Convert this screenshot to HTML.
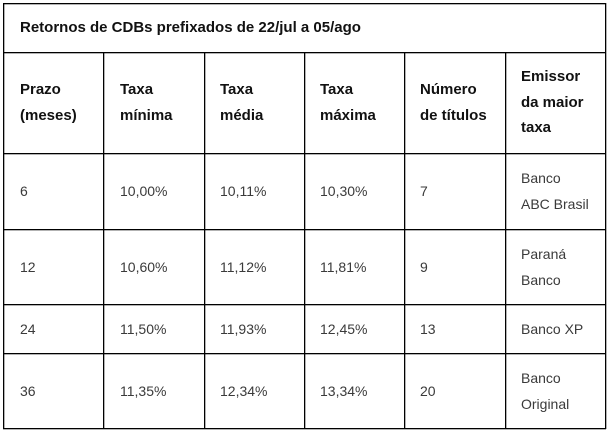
<!DOCTYPE html>
<html>
<head>
<meta charset="utf-8">
<style>
  html,body{margin:0;padding:0;background:#fff;}
  body{width:609px;height:432px;position:relative;overflow:hidden;font-family:"Liberation Sans",Arial,sans-serif;}
  .h{position:absolute;height:2px;background:linear-gradient(to bottom,#000 50%,rgba(0,0,0,.3) 50%);}
  .v{position:absolute;width:2px;background:linear-gradient(to right,#000 50%,rgba(0,0,0,.3) 50%);}
  .c{position:absolute;display:flex;align-items:center;line-height:25.5px;white-space:nowrap;}
  .hd{font-weight:bold;font-size:15px;color:#111;}
  .d{font-size:14px;color:#3a3a3a;line-height:26px;}
</style>
</head>
<body>
<!-- horizontal lines -->
<div class="h" style="left:3px;width:603px;top:3px;"></div>
<div class="h" style="left:3px;width:603px;top:52px;"></div>
<div class="h" style="left:3px;width:603px;top:153px;"></div>
<div class="h" style="left:3px;width:603px;top:229px;"></div>
<div class="h" style="left:3px;width:603px;top:304px;"></div>
<div class="h" style="left:3px;width:603px;top:353px;"></div>
<div class="h" style="left:3px;width:603px;top:428px;"></div>
<!-- vertical lines -->
<div class="v" style="left:3px;top:3px;height:426px;"></div>
<div class="v" style="left:605px;top:3px;height:426px;"></div>
<div class="v" style="left:103px;top:52px;height:377px;"></div>
<div class="v" style="left:204px;top:52px;height:377px;"></div>
<div class="v" style="left:304px;top:52px;height:377px;"></div>
<div class="v" style="left:404px;top:52px;height:377px;"></div>
<div class="v" style="left:505px;top:52px;height:377px;"></div>

<!-- title -->
<div class="c hd" style="left:20px;top:4px;height:47px;">Retornos de CDBs prefixados de 22/jul a 05/ago</div>

<!-- header row -->
<div class="c hd" style="left:20px;top:53px;height:99px;">Prazo<br>(meses)</div>
<div class="c hd" style="left:120px;top:53px;height:99px;">Taxa<br>mínima</div>
<div class="c hd" style="left:220px;top:53px;height:99px;">Taxa<br>média</div>
<div class="c hd" style="left:320px;top:53px;height:99px;">Taxa<br>máxima</div>
<div class="c hd" style="left:420px;top:53px;height:99px;">Número<br>de títulos</div>
<div class="c hd" style="left:521px;top:53px;height:99px;">Emissor<br>da maior<br>taxa</div>

<!-- row 1 -->
<div class="c d" style="left:20px;top:154px;height:74px;">6</div>
<div class="c d" style="left:120px;top:154px;height:74px;">10,00%</div>
<div class="c d" style="left:220px;top:154px;height:74px;">10,11%</div>
<div class="c d" style="left:320px;top:154px;height:74px;">10,30%</div>
<div class="c d" style="left:420px;top:154px;height:74px;">7</div>
<div class="c d" style="left:521px;top:154px;height:74px;">Banco<br>ABC Brasil</div>

<!-- row 2 -->
<div class="c d" style="left:20px;top:230px;height:73px;">12</div>
<div class="c d" style="left:120px;top:230px;height:73px;">10,60%</div>
<div class="c d" style="left:220px;top:230px;height:73px;">11,12%</div>
<div class="c d" style="left:320px;top:230px;height:73px;">11,81%</div>
<div class="c d" style="left:420px;top:230px;height:73px;">9</div>
<div class="c d" style="left:521px;top:230px;height:73px;">Paraná<br>Banco</div>

<!-- row 3 -->
<div class="c d" style="left:20px;top:305px;height:47px;">24</div>
<div class="c d" style="left:120px;top:305px;height:47px;">11,50%</div>
<div class="c d" style="left:220px;top:305px;height:47px;">11,93%</div>
<div class="c d" style="left:320px;top:305px;height:47px;">12,45%</div>
<div class="c d" style="left:420px;top:305px;height:47px;">13</div>
<div class="c d" style="left:521px;top:305px;height:47px;">Banco XP</div>

<!-- row 4 -->
<div class="c d" style="left:20px;top:354px;height:73px;">36</div>
<div class="c d" style="left:120px;top:354px;height:73px;">11,35%</div>
<div class="c d" style="left:220px;top:354px;height:73px;">12,34%</div>
<div class="c d" style="left:320px;top:354px;height:73px;">13,34%</div>
<div class="c d" style="left:420px;top:354px;height:73px;">20</div>
<div class="c d" style="left:521px;top:354px;height:73px;">Banco<br>Original</div>
</body>
</html>
